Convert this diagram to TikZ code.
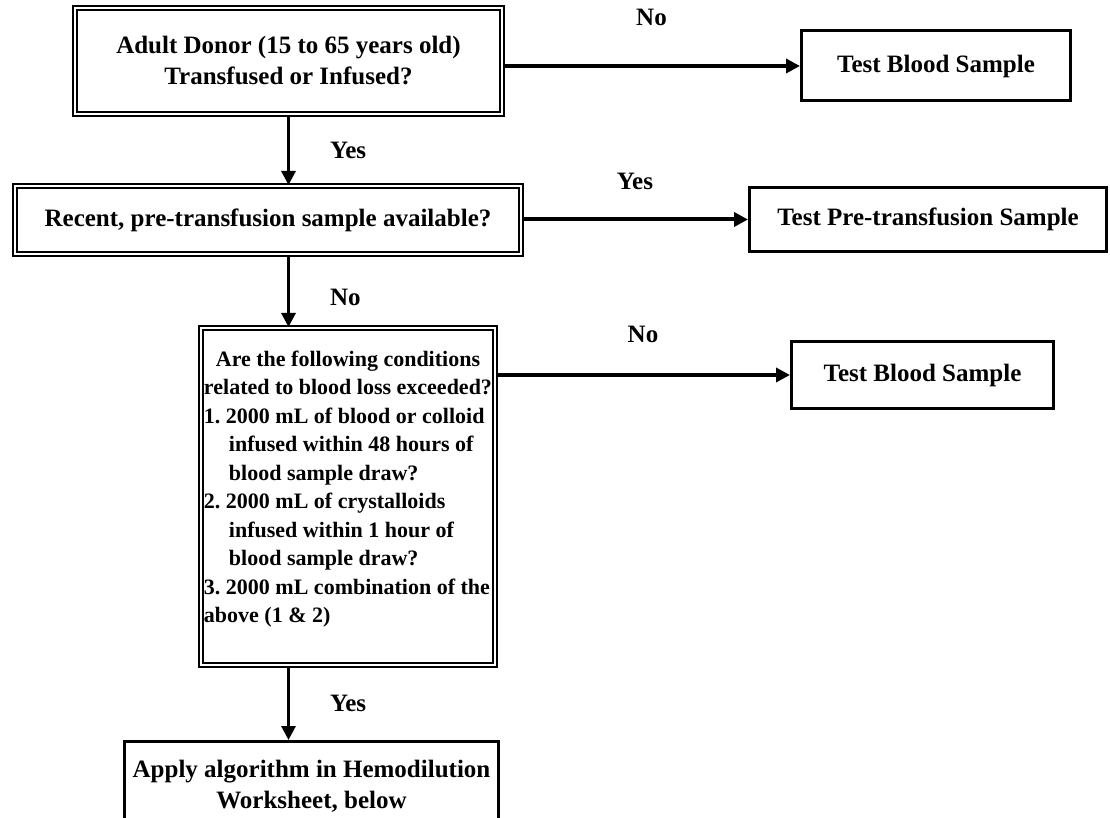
\documentclass[tikz,border=0pt]{standalone}
\usepackage{fontspec}
\setmainfont{Liberation Serif}
\usetikzlibrary{arrows.meta, positioning}
\tikzset{
  every picture/.style={font=\fontsize{12.5}{15.5}\selectfont\bfseries, line width=1.5pt},
  box/.style={draw, line width=1.5pt, align=center, inner sep=2pt},
  dbox/.style={draw, double, double distance=1pt, line width=1pt, align=center, inner sep=2pt},
  arrow/.style={-{Triangle[length=7pt, width=7pt]}, line width=1.5pt},
  harrow/.style={arrow, line width=2pt},
  lbl/.style={inner sep=0pt},
}
\newcommand{\ind}{\hspace*{12.5pt}}

\begin{document}
\begin{tikzpicture}[x=0.5pt, y=-0.5pt]
  \useasboundingbox (0,0) rectangle (1110,818);
  \clip (0,0) rectangle (1110,818);
  % decision boxes
  \node[dbox, minimum width=213.5pt, minimum height=53pt] (donor) at (288.5,61) {Adult Donor (15 to 65 years old)\\Transfused or Infused?};
  \node[dbox, minimum width=253pt, minimum height=34pt] (recent) at (268,220) {Recent, pre-transfusion sample available?};
  \node[dbox, minimum width=147pt, minimum height=168.5pt] (cond) at (348,496.5) {};
  \node[lbl, anchor=north, font=\fontsize{11}{14.25}\selectfont\bfseries] (condtxt) at ([yshift=-9pt]cond.north) {%
    \begin{tabular}{@{}l@{}}
      \multicolumn{1}{@{}c@{}}{Are the following conditions}\\
      \multicolumn{1}{@{}c@{}}{related to blood loss exceeded?}\\
      1.~2000 mL of blood or colloid\\
      \ind infused within 48 hours of\\
      \ind blood sample draw?\\
      2.~2000 mL of crystalloids\\
      \ind infused within 1 hour of\\
      \ind blood sample draw?\\
      3.~2000 mL combination of the\\
      above (1 \& 2)
    \end{tabular}};
  % outcome boxes
  \node[box, minimum width=134.5pt, minimum height=35pt] (test1) at (936,66) {Test Blood Sample};
  \node[box, minimum width=178.5pt, minimum height=32pt] (pretest) at (928,219.5) {Test Pre-transfusion Sample};
  \node[box, minimum width=131pt, minimum height=33.5pt] (test2) at (922.5,375) {Test Blood Sample};
  \node[box, minimum width=187pt, minimum height=44.5pt] (apply) at (311.5,786) {Apply algorithm in Hemodilution\\Worksheet, below};
  % connectors
  \draw[harrow] (donor.east |- test1.west) -- node[lbl, above=19pt] {No} (test1.west);
  \draw[harrow] (recent.east |- pretest.west) -- node[lbl, above=14pt] {Yes} (pretest.west);
  \draw[harrow] (cond.east |- test2.west) -- node[lbl, above=15pt] {No} (test2.west);
  \draw[arrow] (donor.south) -- node[lbl, right=20pt] {Yes} (donor.south |- recent.north);
  \draw[arrow] (donor.south |- recent.south) -- node[lbl, right=20pt, yshift=-3pt] {No} (donor.south |- cond.north);
  \draw[arrow] (donor.south |- cond.south) -- node[lbl, right=20pt] {Yes} (donor.south |- apply.north);
\end{tikzpicture}
\end{document}
